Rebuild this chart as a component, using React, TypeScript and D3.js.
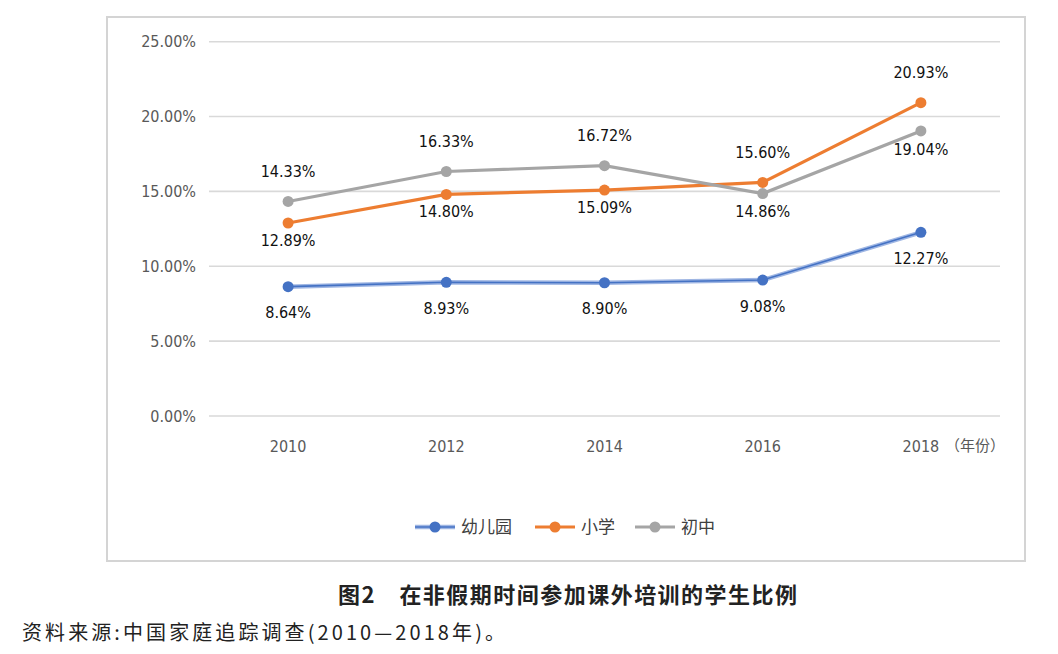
import React from "react";
import * as d3 from "d3";

const years = ["2010", "2012", "2014", "2016", "2018"];
const kindergarten = [8.64, 8.93, 8.9, 9.08, 12.27];
const primary = [12.89, 14.8, 15.09, 15.6, 20.93];
const juniorHigh = [14.33, 16.33, 16.72, 14.86, 19.04];
const yTicks = [0, 5, 10, 15, 20, 25];
const seriesNames = ["幼儿园", "小学", "初中"];
const kindergartenPos = ["below", "below", "below", "below", "below"];
const primaryPos = ["below", "below", "below", "above", "above"];
const juniorPos = ["above", "above", "above", "below", "below"];

const W = 1058;
const H = 654;
const plotLeft = 209;
const plotRight = 1000;
const plotTop = 41.7;
const plotBottom = 416;

const NUM_FONT = "'Liberation Sans Narrow', 'DejaVu Sans Condensed', 'Liberation Sans', sans-serif";
const CJK = "'Noto Sans CJK SC', sans-serif";

export default function App() {
  const x = d3.scalePoint<string>().domain(years).range([plotLeft, plotRight]).padding(0.5);
  const y = d3.scaleLinear().domain([0, 25]).range([plotBottom, plotTop]);
  const line = d3
    .line<number>()
    .x((_, i) => x(years[i]) as number)
    .y((d) => y(d));

  const series = [
    { name: seriesNames[0], values: kindergarten, pos: kindergartenPos, color: "#4472C4", light: "#9fb6e3", above: -29, below: 26 },
    { name: seriesNames[1], values: primary, pos: primaryPos, color: "#ED7D31", light: null, above: -30, below: 17 },
    { name: seriesNames[2], values: juniorHigh, pos: juniorPos, color: "#A5A5A5", light: null, above: -30, below: 18 },
  ];

  const legendX = [415, 535, 635];

  return (
    <svg width={W} height={H} style={{ position: "absolute", left: 0, top: 0, background: "#fff" }}>
      <rect x={107} y={17} width={918} height={544} fill="#fff" stroke="#d4d4d4" strokeWidth={2} />
      {yTicks.map((t) => (
        <g key={t}>
          <line x1={plotLeft} x2={plotRight} y1={y(t)} y2={y(t)} stroke="#d9d9d9" strokeWidth={1.6} />
          <text x={196} y={y(t)} dy="0.35em" textAnchor="end" fontFamily={NUM_FONT} fontSize={16} fill="#595959">
            {t.toFixed(2) + "%"}
          </text>
        </g>
      ))}
      {years.map((yr) => (
        <text key={yr} x={x(yr)} y={446} dy="0.35em" textAnchor="middle" fontFamily={NUM_FONT} fontSize={16} fill="#595959">
          {yr}
        </text>
      ))}
      <text x={945} y={446} dy="0.35em" fontFamily={CJK} fontSize={15} fill="#595959">
        （年份）
      </text>
      {series.map((s) => (
        <g key={s.name}>
          {s.light && <path d={line(s.values) || ""} fill="none" stroke={s.light} strokeWidth={4.5} />}
          <path d={line(s.values) || ""} fill="none" stroke={s.color} strokeWidth={s.light ? 1.6 : 3.2} />
          {s.values.map((v, i) => (
            <circle key={i} cx={x(years[i])} cy={y(v)} r={5.5} fill={s.color} />
          ))}
        </g>
      ))}
      {series.map((s) =>
        s.values.map((v, i) => (
          <text
            key={s.name + i}
            x={x(years[i])}
            y={y(v) + (s.pos[i] === "above" ? s.above : s.below)}
            dy="0.35em"
            textAnchor="middle"
            fontFamily={NUM_FONT}
            fontSize={16}
            fill="#111"
          >
            {v.toFixed(2) + "%"}
          </text>
        ))
      )}
      {series.map((s, k) => (
        <g key={"lg" + s.name} transform={`translate(${legendX[k]},527)`}>
          {s.light && <line x1={0} x2={40} y1={0} y2={0} stroke={s.light} strokeWidth={4.5} />}
          <line x1={0} x2={40} y1={0} y2={0} stroke={s.color} strokeWidth={s.light ? 1.6 : 3.2} />
          <circle cx={20} cy={0} r={5.5} fill={s.color} />
          <text x={46} y={0} dy="0.35em" fontFamily={CJK} fontSize={17} fill="#404040">
            {s.name}
          </text>
        </g>
      ))}
      <text x={338} y={595} dy="0.35em" fontFamily={CJK} fontWeight="bold" fontSize={22} fill="#222" textLength={459} lengthAdjust="spacing">
        图2　在非假期时间参加课外培训的学生比例
      </text>
      <text x={22} y={633} dy="0.35em" fontFamily={CJK} fontSize={20} fill="#222" textLength={483} lengthAdjust="spacing">
        资料来源:中国家庭追踪调查(2010—2018年)。
      </text>
    </svg>
  );
}
